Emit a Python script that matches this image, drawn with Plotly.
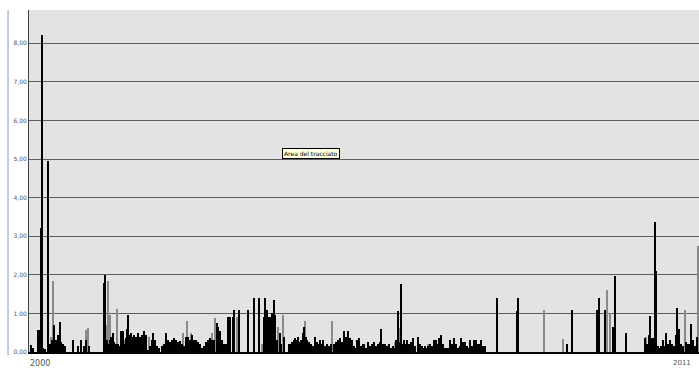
import plotly.graph_objects as go

# period index (one unit per sample) and value, black series
black_t = [31, 33, 38, 39, 40, 41, 42, 43, 45, 48, 49, 50, 52, 54, 55, 56, 57, 58, 60, 61, 63, 65,
           73, 78, 81, 84, 86, 89, 104, 105, 106, 107, 108, 110, 111, 113, 114, 115, 116, 118, 119,
           121, 122, 123, 124, 126, 127, 128, 129, 131, 132, 134, 136, 138, 140, 142,
           144, 146, 148, 150, 152, 153.5, 155, 157, 159, 162, 164, 166, 168, 170, 172, 174, 176, 178,
           180, 182, 184, 186, 188, 190, 192, 194, 196, 198, 200, 202, 204, 206, 208, 210, 212, 214,
           217, 218, 220, 222, 224, 226, 228.5, 229.5, 230.5, 233, 234.5, 239, 248, 254.5,
           259, 264, 265, 266, 267, 268, 269, 270, 272, 273, 274.5, 275.5, 277, 280, 281, 284, 289,
           291, 292, 294, 295, 297, 298, 300, 301, 303, 304, 306, 307, 309, 311, 313, 315, 317, 319,
           320, 322, 323, 325, 327, 329, 331, 334, 336, 338, 340, 342, 344, 346, 348, 350, 352, 354,
           356, 357, 359, 361, 363, 364, 366, 368, 370,
           372, 374, 376, 378, 380, 381, 383, 385, 387, 389, 391, 393, 394, 396, 398.5, 400, 401,
           403, 404, 406, 407, 409, 411, 413, 415, 418, 420, 422, 423, 425, 427, 428, 430, 432, 434,
           436, 437, 439, 441, 443, 445, 447, 449, 450, 452, 454, 456, 458, 460, 461, 463, 465, 467,
           469, 470, 472, 474, 476, 477, 479, 481, 483, 485.5,
           497.5, 517.5, 518.5, 566.7, 572.5, 597.5, 599.5,
           605.5, 613.3, 614.7, 615.5, 626, 644.7, 647.5, 649, 650.5, 652, 654, 656, 655.5, 658, 660,
           661, 663, 665, 666.3, 668, 670.5, 672, 674, 676, 677.5, 679.3, 681, 683, 686.5, 688, 690,
           691.3, 693, 695, 697]
black_v = [0.18, 0.10, 0.57, 0.57, 0.35, 3.20, 8.20, 0.10, 0.08, 4.95, 0.10, 0.20, 0.30, 0.70, 0.25, 0.30, 0.20, 0.45, 0.77, 0.25, 0.20, 0.15,
           0.30, 0.15, 0.30, 0.15, 0.30, 0.15, 1.80, 2.00, 0.20, 0.30, 0.20, 0.30, 0.40, 0.50, 0.25, 0.15, 0.20, 0.20, 0.15,
           0.55, 0.25, 0.55, 0.20, 0.35, 0.60, 0.95, 0.45, 0.50, 0.40, 0.45, 0.40, 0.50, 0.40, 0.45,
           0.55, 0.45, 0.05, 0.15, 0.30, 0.50, 0.30, 0.15, 0.10, 0.15, 0.20, 0.50, 0.30, 0.25, 0.30, 0.35, 0.30, 0.25,
           0.28, 0.20, 0.15, 0.40, 0.40, 0.30, 0.45, 0.30, 0.30, 0.25, 0.20, 0.10, 0.15, 0.25, 0.30, 0.35, 0.30, 0.30,
           0.75, 0.65, 0.55, 0.30, 0.20, 0.20, 0.90, 0.90, 0.90, 0.90, 1.10, 1.10, 1.10, 1.40,
           1.40, 0.90, 1.40, 0.90, 1.10, 0.90, 0.90, 0.90, 1.00, 1.00, 1.35, 0.95, 0.30, 0.50, 0.20, 0.40, 0.20,
           0.20, 0.25, 0.30, 0.35, 0.30, 0.40, 0.25, 0.30, 0.50, 0.65, 0.40, 0.30, 0.25, 0.20, 0.15, 0.40, 0.25, 0.20,
           0.30, 0.20, 0.30, 0.15, 0.20, 0.15, 0.20, 0.20, 0.25, 0.30, 0.35, 0.25, 0.55, 0.40, 0.55, 0.35, 0.30, 0.15,
           0.10, 0.30, 0.35, 0.15, 0.20, 0.20, 0.10, 0.25, 0.15,
           0.20, 0.25, 0.15, 0.20, 0.25, 0.60, 0.20, 0.20, 0.15, 0.20, 0.10, 0.15, 0.10, 0.30, 1.05, 0.25, 1.75,
           0.20, 0.30, 0.20, 0.30, 0.20, 0.25, 0.35, 0.15, 0.40, 0.20, 0.15, 0.10, 0.15, 0.10, 0.15, 0.20, 0.15, 0.30,
           0.30, 0.20, 0.35, 0.45, 0.20, 0.10, 0.10, 0.10, 0.30, 0.20, 0.35, 0.20, 0.10, 0.15, 0.35, 0.25, 0.25, 0.15,
           0.10, 0.30, 0.15, 0.30, 0.30, 0.20, 0.20, 0.30, 0.15, 0.15,
           1.40, 1.05, 1.40, 0.22, 1.10, 1.10, 1.40,
           1.10, 0.65, 0.80, 1.98, 0.50, 0.35, 0.20, 0.45, 0.92, 0.35, 0.35, 2.10, 3.38, 0.15, 0.10,
           0.15, 0.30, 0.15, 0.50, 0.20, 0.30, 0.20, 0.15, 0.45, 1.15, 0.60, 0.20, 0.15, 0.25, 0.20, 0.20,
           0.72, 0.30, 0.15, 0.38]

# gray series
gray_t = [51.5, 53.5, 86, 88, 107, 108.5, 110, 117.5, 125, 149, 176, 183, 187, 191, 212.5, 215, 237.5,
          262, 278, 283, 305.5, 332.5, 395, 399.5, 428, 544, 563.3, 607, 610, 646, 685, 698]
gray_v = [0.38, 1.85, 0.58, 0.62, 0.70, 1.85, 0.95, 1.12, 0.30, 0.40, 0.25, 0.50, 0.80, 0.50, 0.50, 0.88, 0.90,
          0.20, 0.65, 0.95, 0.80, 0.80, 0.25, 0.62, 0.20, 1.10, 0.33, 1.60, 1.00, 0.40, 1.10, 2.75]

y_ticks = [0, 1, 2, 3, 4, 5, 6, 7, 8]
x_label_t = [40, 682]
x_label_text = ["2000", "2011"]
x_label_size = [8, 7]

fig = go.Figure()
fig.add_trace(go.Bar(x=gray_t, y=gray_v, width=1.1, marker=dict(color="#8a8a8a", line=dict(width=0)),
                     hoverinfo="skip"))
fig.add_trace(go.Bar(x=black_t, y=black_v, width=1.3, marker=dict(color="#000000", line=dict(width=0)),
                     hoverinfo="skip"))

fig.update_layout(
    width=699, height=368,
    margin=dict(l=29, r=0, t=10, b=16, autoexpand=False),
    paper_bgcolor="white", plot_bgcolor="#e3e3e3",
    barmode="overlay", bargap=0, showlegend=False,
    separators=",.",
    font=dict(family="DejaVu Sans", color="#333333"),
)
fig.update_yaxes(range=[0, 8.86], tickvals=y_ticks, tickformat=".2f", showgrid=True,
                 gridcolor="#5e5e5e", gridwidth=1, zeroline=False, showline=True,
                 linecolor="#444444", linewidth=1, tickfont=dict(size=6, color="#555555"),
                 ticks="", automargin=False, fixedrange=True)
fig.update_xaxes(range=[29, 699], showticklabels=False, showgrid=False,
                 zeroline=False, showline=True, linecolor="#000000", linewidth=2,
                 ticks="", automargin=False, fixedrange=True)

for t, txt, sz in zip(x_label_t, x_label_text, x_label_size):
    fig.add_annotation(text=txt, x=t, xref="x", y=-0.033, yref="paper", yanchor="middle",
                       showarrow=False, font=dict(size=sz, color="#555555"))

fig.add_shape(type="line", xref="paper", yref="paper", x0=-0.0313, x1=-0.0313, y0=-0.01, y1=1,
              line=dict(color="#7f9fc4", width=1))
fig.add_annotation(text="Area del tracciato", xref="paper", yref="paper", x=0.421, y=0.579,
                   showarrow=False, bgcolor="#ffffe1", bordercolor="#000000", borderwidth=1,
                   borderpad=1, font=dict(size=6, color="#000000"))

fig.write_html("out.html", config={"displayModeBar": False},
               post_script="document.body.style.margin='0px';document.body.style.overflow='hidden';")
